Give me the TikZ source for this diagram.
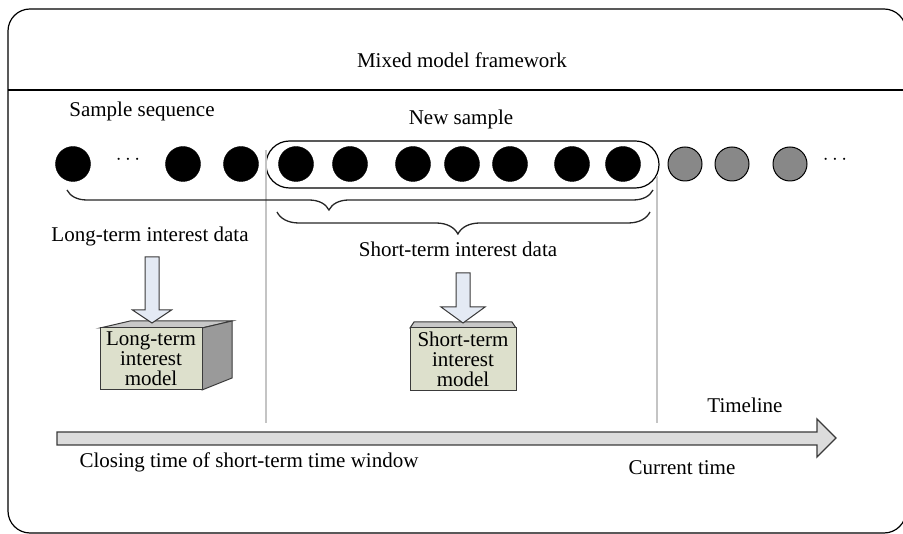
\documentclass[tikz,border=0pt]{standalone}
\usepackage{fontspec}
\setmainfont{Liberation Serif}
\usetikzlibrary{decorations.pathreplacing}
\definecolor{boxfill}{HTML}{DDE0CC}
\definecolor{sidefill}{HTML}{9A9A9A}
\definecolor{topfill}{HTML}{C8C8C8}
\definecolor{arrfill}{HTML}{E4EAF4}
\definecolor{tlfill}{HTML}{DCDCDC}
\definecolor{edge}{HTML}{3A3A3A}
\definecolor{guide}{HTML}{C4C4C4}
\definecolor{graydot}{HTML}{888888}
\begin{document}
\begin{tikzpicture}[x=1pt,y=-1pt,
  lbl/.style={font=\rmfamily\fontsize{21}{20}\selectfont, inner sep=0, anchor=base},
  bdot/.style={circle, draw=black, fill=black, minimum size=35, inner sep=0},
  gdot/.style={circle, draw=black, line width=1, fill=graydot, minimum size=34, inner sep=0},
  modelbox/.style={draw=edge, line width=1, fill=boxfill, inner sep=0, align=center,
    font=\rmfamily\fontsize{21}{20}\selectfont},
  blockarrow/.style={draw=edge, line width=1, fill=arrfill},
  bracestyle/.style={draw=black!85, line width=1.3, decorate},
  guideline/.style={draw=guide, line width=1.1}]
\useasboundingbox (0,0) rectangle (903,534);

% frame
\draw[line width=1.2, rounded corners=22] (8,9) rectangle (906,533);
\coordinate (sepL) at (8,90);
\coordinate (sepR) at (906,90);
\draw[line width=1.2] (sepL) -- (sepR);

\node[lbl] (title) at (462,68) {Mixed model framework};
\node[lbl] (seq) at (142,117) {Sample sequence};
\node[lbl] (new) at (461,125) {New sample};

% capsule for new sample
\node[draw, line width=1.2, minimum width=393, minimum height=47, rounded corners=23.5, inner sep=0] (cap) at (462.5,164.5) {};

% guide lines
\coordinate (gL1) at (266,150);
\coordinate (gL2) at (266,423);
\coordinate (gR1) at (657,176);
\coordinate (gR2) at (657,423);
\draw[guideline] (gL1) -- (gL2);
\draw[guideline] (gR1) -- (gR2);

% sample circles
\node[bdot] (c1) at (73,164) {};
\node[lbl, anchor=center] (d1) at (128,160) {$\cdots$};
\node[bdot] (c2) at (183,164) {};
\node[bdot] (c3) at (241,164) {};
\node[bdot] (c4) at (296,164) {};
\node[bdot] (c5) at (350,164) {};
\node[bdot] (c6) at (413,164) {};
\node[bdot] (c7) at (462,164) {};
\node[bdot] (c8) at (510,164) {};
\node[bdot] (c9) at (572,164) {};
\node[bdot] (c10) at (623,164) {};
\node[gdot] (g1) at (685,164) {};
\node[gdot] (g2) at (732,164) {};
\node[gdot] (g3) at (790,164) {};
\node[lbl, anchor=center] (d2) at (835,160) {$\cdots$};

% braces
\coordinate (b1s) at (67,190);
\coordinate (b1e) at (653,190);
\draw[bracestyle, decoration={brace, mirror, amplitude=20, aspect=0.447}] (b1s) -- (b1e);
\coordinate (b2s) at (277,212);
\coordinate (b2e) at (650,212);
\draw[bracestyle, decoration={brace, mirror, amplitude=22, aspect=0.485}] (b2s) -- (b2e);

\node[lbl] (ltd) at (150,242) {Long-term interest data};
\node[lbl] (std) at (458,257) {Short-term interest data};

% long-term model box (3D)
\draw[draw=edge, line width=1, fill=topfill] (100,328) -- (130,321) -- (232,321) -- (202,328) -- cycle;
\draw[draw=edge, line width=1, fill=sidefill] (202,328) -- (232,321) -- (232,378) -- (202,390) -- cycle;
\node[modelbox, minimum width=102, minimum height=62] (lbox) at (151,359) {Long-term\\interest\\model};

% short-term model box
\draw[draw=edge, line width=1, fill=topfill] (410,328) -- (414,322) -- (512,322) -- (516,328) -- cycle;
\node[modelbox, minimum width=106, minimum height=63] (sbox) at (463,359.5) {Short-term\\interest\\model};

% block arrows
\coordinate (la) at (152,323);
\draw[blockarrow] (la) -- ++(-19.5,-13) -- ++(12.5,0) -- ++(0,-53) -- ++(14,0) -- ++(0,53) -- ++(12.5,0) -- cycle;
\coordinate (sa) at (463,323);
\draw[blockarrow] (sa) -- ++(-22,-16) -- ++(15,0) -- ++(0,-34) -- ++(14,0) -- ++(0,34) -- ++(15,0) -- cycle;

% timeline
\coordinate (tltip) at (836,438);
\draw[draw=edge, line width=1.4, fill=tlfill] (57,432) -- (817,432) -- (817,419) -- (tltip) -- (817,457) -- (817,445) -- (57,445) -- cycle;

\node[lbl] (tline) at (745,413) {Timeline};
\node[lbl] (close) at (249,468) {Closing time of short-term time window};
\node[lbl] (cur) at (682,475) {Current time};
\end{tikzpicture}
\end{document}
